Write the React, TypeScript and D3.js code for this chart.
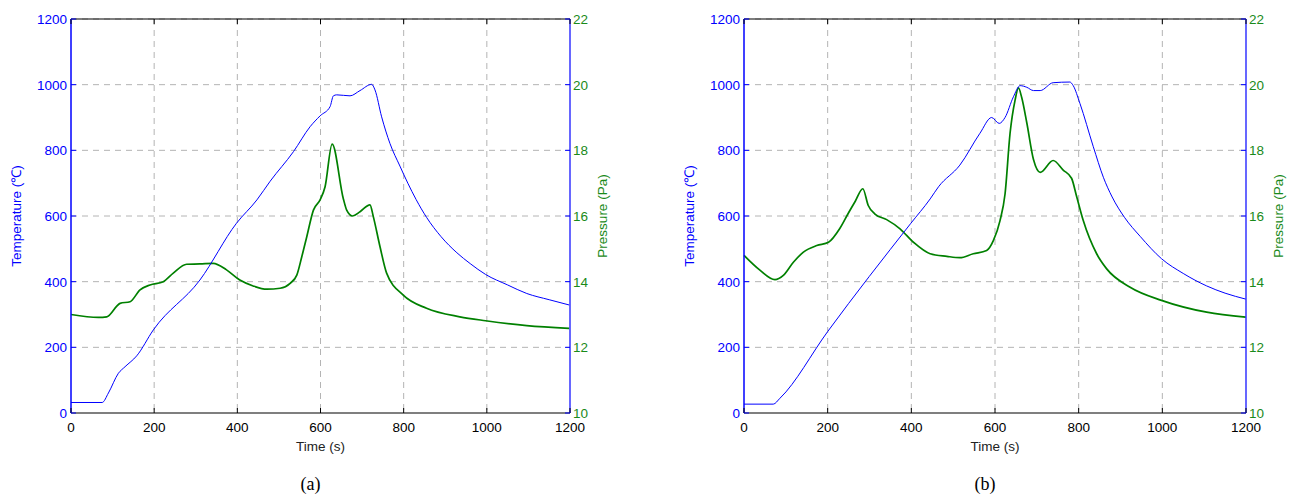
import * as d3 from 'd3';
import React from 'react';

// time ticks and axis ticks
const timeTicks = [0, 200, 400, 600, 800, 1000, 1200];
const tempTicks = [0, 200, 400, 600, 800, 1000, 1200];
const pressTicks = [10, 12, 14, 16, 18, 20, 22];

// panel (a): [time s, temperature C]
const tempA = [
    [0, 32], [75, 32], [90, 61], [114, 121], [130, 141], [158, 174], [198, 253],
    [310, 405], [398, 578], [447, 649], [479, 706], [535, 796], [575, 872], [599, 905],
    [623, 933], [631, 966], [639, 969], [671, 966], [695, 982], [723, 1001], [731, 984],
    [747, 902], [767, 821], [791, 752], [810, 700], [830, 650], [855, 596], [890, 537],
    [928, 488], [960, 455], [997, 422], [1050, 390], [1096, 364], [1150, 345], [1198, 329]
];
// panel (a): [time s, pressure Pa]
const pressA = [
    [0, 13.0], [66, 12.91], [86, 12.93], [118, 13.34], [142, 13.39], [166, 13.75], [190, 13.9],
    [222, 14.0], [246, 14.26], [278, 14.53], [310, 14.54], [342, 14.56], [374, 14.36],
    [406, 14.05], [438, 13.87], [471, 13.77], [503, 13.8], [527, 13.95], [543, 14.2],
    [555, 14.76], [567, 15.37], [583, 16.18], [599, 16.49], [611, 16.89], [628, 18.19],
    [655, 16.52], [663, 16.18], [677, 16.0], [695, 16.13], [719, 16.34], [727, 15.98],
    [743, 15.07], [759, 14.26], [799, 13.59], [855, 13.19], [935, 12.93], [997, 12.81],
    [1096, 12.66], [1198, 12.58]
];
// panel (b): [time s, temperature C]
const tempB = [
    [0, 27], [70, 27], [86, 45], [200, 248], [399, 578], [445, 652], [465, 689], [516, 755],
    [564, 852], [592, 900], [610, 882], [624, 900], [644, 963], [660, 997], [676, 992],
    [692, 982], [708, 982], [739, 1006], [779, 1008], [787, 997], [803, 943], [835, 811],
    [859, 718], [880, 658], [910, 595], [947, 538], [998, 470], [1050, 425], [1106, 387],
    [1150, 365], [1199, 347]
];
// panel (b): [time s, pressure Pa]
const pressB = [
    [0, 14.8], [38, 14.35], [74, 14.06], [94, 14.19], [118, 14.59], [142, 14.9], [174, 15.1],
    [202, 15.2], [229, 15.62], [250, 16.1], [266, 16.45], [284, 16.83], [297, 16.32],
    [313, 16.06], [341, 15.89], [373, 15.61], [405, 15.2], [445, 14.85], [485, 14.77],
    [516, 14.73], [548, 14.85], [580, 14.95], [596, 15.25], [612, 15.86], [624, 16.67],
    [636, 18.52], [648, 19.53], [656, 19.9], [664, 19.6], [676, 18.84], [692, 17.72],
    [708, 17.33], [739, 17.69], [763, 17.4], [783, 17.15], [795, 16.6], [811, 15.86],
    [843, 14.85], [867, 14.39], [923, 13.83], [998, 13.43], [1106, 13.07], [1199, 12.92]
];

const BLUE = '#0000ff';
const GREEN = '#008000';
const GREEN_TXT = '#1a8a1a';
const GRID = '#b4b4b4';
const FONT = '"Liberation Sans", Arial, sans-serif';
const FS = 13.5;

const Panel = ({ left, right, temp, press, caption }) => {
    const top = 19, bottom = 413;
    const x = d3.scaleLinear().domain([0, 1200]).range([left, right]);
    const yT = d3.scaleLinear().domain([0, 1200]).range([bottom, top]);
    const yP = d3.scaleLinear().domain([10, 22]).range([bottom, top]);
    const lineT = d3.line().x(d => x(d[0])).y(d => yT(d[1])).curve(d3.curveMonotoneX);
    const lineP = d3.line().x(d => x(d[0])).y(d => yP(d[1])).curve(d3.curveMonotoneX);
    const mid = (left + right) / 2;

    return (
        <g>
            {/* grid */}
            {timeTicks.slice(1, -1).map(t => (
                <line key={'gx' + t} x1={x(t)} x2={x(t)} y1={top} y2={bottom}
                    stroke={GRID} strokeDasharray="6,5" />
            ))}
            {tempTicks.slice(1).map(t => (
                <line key={'gy' + t} x1={left} x2={right} y1={yT(t)} y2={yT(t)}
                    stroke={GRID} strokeDasharray="6,5" />
            ))}

            {/* data */}
            <path d={lineP(press)} fill="none" stroke={GREEN} strokeWidth={1.7} strokeLinejoin="round" />
            <path d={lineT(temp)} fill="none" stroke={BLUE} strokeWidth={1} strokeLinejoin="round" />

            {/* frame */}
            <line x1={left} x2={right} y1={top} y2={top} stroke="#000" strokeWidth={1.2} />
            <line x1={left} x2={right} y1={bottom} y2={bottom} stroke="#000" strokeWidth={1.2} />
            <line x1={left} x2={left} y1={top} y2={bottom} stroke={BLUE} strokeWidth={1.5} />
            <line x1={right} x2={right} y1={top} y2={bottom} stroke={BLUE} strokeWidth={1.2} />

            {/* x ticks */}
            {timeTicks.map(t => (
                <g key={'xt' + t}>
                    <line x1={x(t)} x2={x(t)} y1={bottom} y2={bottom - 5} stroke="#000" />
                    <line x1={x(t)} x2={x(t)} y1={top} y2={top + 5} stroke="#000" />
                    <text x={x(t)} y={432} textAnchor="middle" fontFamily={FONT} fontSize={FS} fill="#000">{t}</text>
                </g>
            ))}
            <text x={mid} y={451} textAnchor="middle" fontFamily={FONT} fontSize={FS} fill="#222">Time (s)</text>

            {/* left axis */}
            {tempTicks.map(t => (
                <g key={'yt' + t}>
                    <line x1={left} x2={left + 5} y1={yT(t)} y2={yT(t)} stroke={BLUE} />
                    <text x={left - 4} y={yT(t) + 5} textAnchor="end" fontFamily={FONT} fontSize={FS} fill={BLUE}>{t}</text>
                </g>
            ))}
            <text transform={`translate(${left - 50},216) rotate(-90)`} textAnchor="middle"
                fontFamily={FONT} fontSize={FS} fill={BLUE}>Temperature (℃)</text>

            {/* right axis */}
            {pressTicks.map(p => (
                <g key={'pt' + p}>
                    <line x1={right} x2={right - 5} y1={yP(p)} y2={yP(p)} stroke={BLUE} />
                    <text x={right + 3} y={yP(p) + 5} textAnchor="start" fontFamily={FONT} fontSize={FS} fill={GREEN_TXT}>{p}</text>
                </g>
            ))}
            <text transform={`translate(${right + 37},216) rotate(-90)`} textAnchor="middle"
                fontFamily={FONT} fontSize={FS} fill={GREEN_TXT}>Pressure (Pa)</text>

            <text x={mid - 10} y={490} textAnchor="middle" fontFamily='"Liberation Serif", "Times New Roman", serif'
                fontSize={18} fill="#000">{caption}</text>
        </g>
    );
};

export default function App() {
    return (
        <svg width={1294} height={496} style={{ position: 'absolute', left: 0, top: 0, background: '#fff' }}>
            <Panel left={71} right={570} temp={tempA} press={pressA} caption="(a)" />
            <Panel left={744} right={1246} temp={tempB} press={pressB} caption="(b)" />
        </svg>
    );
}
